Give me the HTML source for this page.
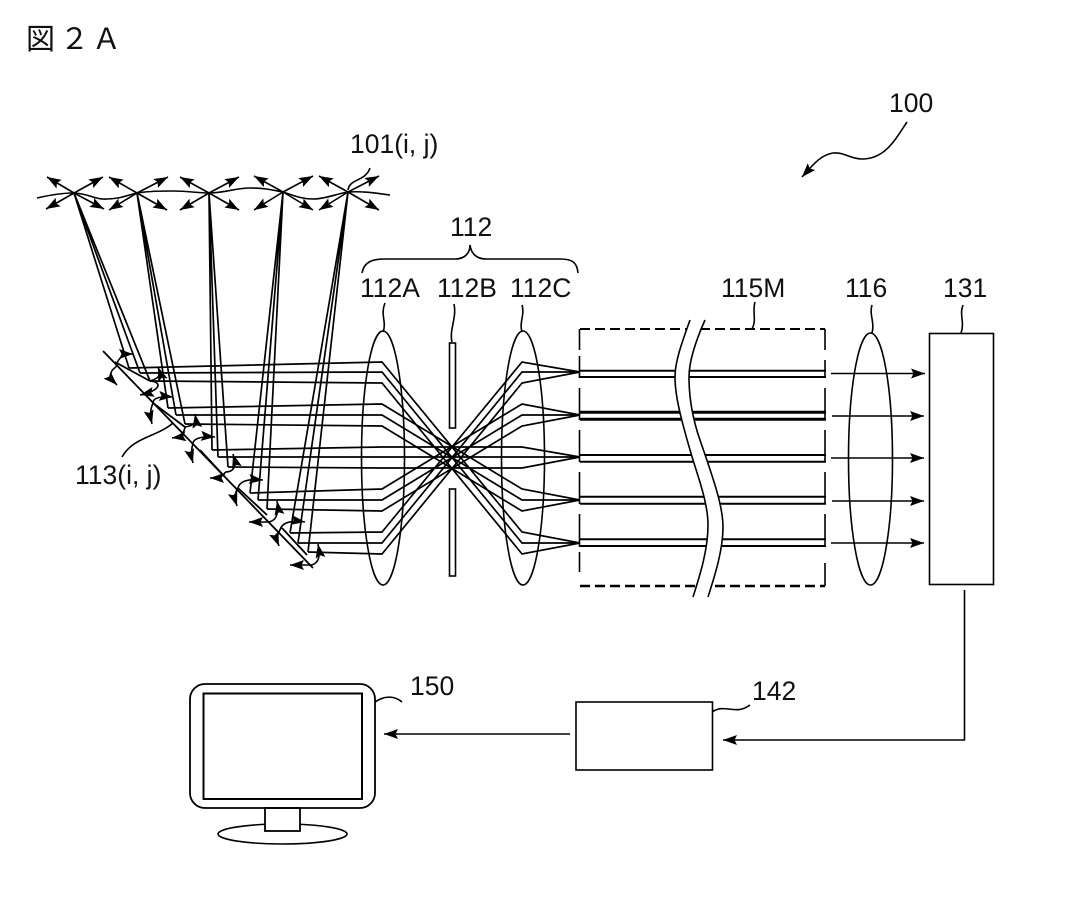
<!DOCTYPE html>
<html><head><meta charset="utf-8"><style>
html,body{margin:0;padding:0;background:#fff}
svg{display:block}
text{font-family:"Liberation Sans","Noto Sans CJK JP",sans-serif;font-size:26.5px;fill:#111}
.l{fill:none;stroke:#000;stroke-width:1.6}
.a{fill:none;stroke:#000;stroke-width:1.6;marker-end:url(#m)}
.r{fill:none;stroke:#000;stroke-width:1.7}
</style></head><body>
<svg width="1071" height="898" viewBox="0 0 1071 898" xmlns="http://www.w3.org/2000/svg">
<defs><marker id="m" markerUnits="userSpaceOnUse" markerWidth="16" markerHeight="12" refX="14" refY="5" orient="auto"><path d="M0 0L14 5L0 10L2.500 5Z" fill="#000"/></marker></defs>
<rect width="1071" height="898" fill="#fff"/>
<text y="49" style="font-size:29px"><tspan x="26">図</tspan><tspan x="60">２</tspan><tspan x="92">Ａ</tspan></text>
<text x="889" y="112">100</text><text x="350" y="153">101(i, j)</text><text x="450" y="236">112</text>
<text x="360" y="297">112A</text><text x="437" y="297">112B</text><text x="510" y="297">112C</text>
<text x="721" y="297">115M</text><text x="845" y="297">116</text><text x="943" y="297">131</text>
<text x="75" y="484">113(i, j)</text><text x="752" y="700">142</text><text x="410" y="695">150</text>

<!-- leaders -->
<path class="a" d="M907 122C895 140 885 159 862 159C850 159 845 152 833 153C820 155 812 166 802 177"/>
<path class="l" d="M348 190C350 178 365 182 370 168"/>
<path class="l" d="M362 273C364 262 372 259 385 259H455C465 259 470 253 470 245C471 253 476 259 486 259H560C572 259 577 262 578 273"/>
<path class="l" d="M383 332C387 322 380 315 385 303M452 342C449 330 457 318 454 304M522 332C519 322 525 315 522 305M752 329C757 320 752 312 755 302M872 333C875 322 869 315 872 305M961 333C965 322 959 315 963 305M712 712C725 703 735 716 750 705M375 702C385 695 395 696 402 702"/>
<path class="l" d="M122 457C133 437 157 437 173 423"/>

<!-- source wave -->
<path class="l" d="M37 198C50 195 62 193 73 193C88 193 95 200 107 199C120 199 128 195 137 193C150 191 160 191 173 191C188 191 198 193 209 193C225 193 235 188 250 188C265 188 272 190 283 192C295 196 302 199 313 199C325 199 336 194 348 192C362 191 375 193 390 195"/>

<!-- emitters -->
<line class="a" x1="74" y1="193" x2="47" y2="177"/><line class="a" x1="74" y1="193" x2="103" y2="177"/><line class="a" x1="74" y1="193" x2="46" y2="209"/><line class="a" x1="74" y1="193" x2="104" y2="209"/>
<line class="a" x1="137" y1="193" x2="109" y2="177"/><line class="a" x1="137" y1="193" x2="168" y2="177"/><line class="a" x1="137" y1="193" x2="109" y2="210"/><line class="a" x1="137" y1="193" x2="167" y2="210"/>
<line class="a" x1="209" y1="193" x2="180" y2="177"/><line class="a" x1="209" y1="193" x2="239" y2="177"/><line class="a" x1="209" y1="193" x2="180" y2="210"/><line class="a" x1="209" y1="193" x2="239" y2="210"/>
<line class="a" x1="283" y1="192" x2="254" y2="176"/><line class="a" x1="283" y1="192" x2="313" y2="176"/><line class="a" x1="283" y1="192" x2="254" y2="210"/><line class="a" x1="283" y1="192" x2="313" y2="210"/>
<line class="a" x1="348" y1="192" x2="319" y2="176"/><line class="a" x1="348" y1="192" x2="379" y2="176"/><line class="a" x1="348" y1="192" x2="319" y2="210"/><line class="a" x1="348" y1="192" x2="379" y2="210"/>

<!-- emitter to mirror rays -->
<path class="r" d="M74 193L129 368M74 193L140 373M74 193L150 381M137 193L168 408M137 193L176 415M137 193L185 424M209 193L212 450M209 193L218 457M209 193L228 467M283 192L250 493M283 192L258 500M283 192L267 509M348 192L290 533M348 192L298 543M348 192L308 552"/>

<!-- mirror to lens to fibre rays -->
<path class="r" d="M129 368L382 362L522 532L580 543M140 373L382 372L522 543L580 543M150 381L382 383L522 554L580 543"/>
<path class="r" d="M168 408L382 404L522 489L580 500M176 415L382 415L522 500L580 500M185 424L382 426L522 511L580 500"/>
<path class="r" d="M212 450L382 447L522 447L580 457M218 457L382 457L522 457L580 457M228 467L382 468L522 468L580 457"/>
<path class="r" d="M250 493L382 489L522 404L580 415M258 500L382 500L522 415L580 415M267 509L382 511L522 426L580 415"/>
<path class="r" d="M290 533L382 532L522 362L580 372M298 543L382 543L522 372L580 372M308 552L382 554L522 383L580 372"/>

<!-- mirrors -->
<path class="l" d="M103 351L313 568" style="stroke-width:1.8"/>
<path class="l" d="M115 362L150 381M153 403L185 427M200 450L225 477M238 488L267 515M282 528L307 555" style="stroke-width:1.8"/>

<!-- curved arrows -->
<path class="a" d="M116 367C108 372 110 378 117 385"/><path class="a" d="M116 367C118 356 125 354 133 354"/>
<path class="a" d="M150 381C162 382 162 390 140 395"/><path class="a" d="M150 381C160 378 161 375 158 367"/>
<path class="a" d="M153 403C153 398 160 396 173 397"/><path class="a" d="M153 403C150 410 150 416 152 424"/>
<path class="a" d="M185 427C198 425 196 420 195 414"/><path class="a" d="M185 427C184 434 180 437 172 438"/>
<path class="a" d="M193 443C194 438 203 436 215 437"/><path class="a" d="M193 443C191 450 191 456 193 463"/>
<path class="a" d="M225 472C236 472 236 464 233 454"/><path class="a" d="M225 472C225 476 218 478 210 478"/>
<path class="a" d="M238 488C240 480 250 479 263 480"/><path class="a" d="M238 488C234 494 235 500 237 506"/>
<path class="a" d="M267 522C277 522 279 512 277 501"/><path class="a" d="M267 522H249"/>
<path class="a" d="M280 530C282 522 292 520 305 522"/><path class="a" d="M280 530C276 536 277 541 279 546"/>
<path class="a" d="M312 565C320 562 320 555 318 544"/><path class="a" d="M312 565H290"/>

<!-- lenses -->
<ellipse class="l" cx="383" cy="458" rx="21.5" ry="127"/>
<ellipse class="l" cx="523" cy="458" rx="21.5" ry="127"/>
<ellipse class="l" cx="870.5" cy="459" rx="22" ry="126"/>

<!-- aperture -->
<rect class="l" x="449.5" y="343" width="6" height="85" fill="#fff"/>
<rect class="l" x="449.5" y="489" width="6" height="87"/>

<!-- fibre bundle -->
<path class="l" d="M580 370.700H826M580 377H826M580 455H826M580 461.700H826M580 496.700H826M580 503.700H826M580 539.300H826M580 546H826" style="stroke-width:2"/>
<path class="l" d="M580 412.300H826M580 419.300H826" style="stroke-width:3"/>
<path class="l" d="M580 329H825" style="stroke-width:2;stroke-dasharray:10 5"/>
<path class="l" d="M580 586H825" style="stroke-width:2.600;stroke-dasharray:10 5"/>
<path class="l" d="M579.500 329V350M579.500 356V378M579.500 388V420M579.500 430V462M579.500 472V504M579.500 514V547M579.500 552V572M825 329V350M825 360V378M825 388V420M825 430V462M825 472V504M825 514V547M825 563V586"/>
<path d="M690 320C681 345 675 362 675 377C675 392 678 410 693 460C700 482 708 505 708 525C708 550 700 575 693 597H708C715 575 723 550 723 527C723 505 712 475 700 440C693 420 689 400 689 377C689 360 697 338 705 320Z" fill="#fff"/>
<path class="l" d="M690 320C681 345 675 362 675 377C675 392 678 410 693 460C700 482 708 505 708 525C708 550 700 575 693 597"/>
<path class="l" d="M705 320C697 338 689 360 689 377C689 400 693 420 700 440C712 475 723 505 723 527C723 550 715 575 708 597"/>

<!-- output arrows -->
<line class="a" x1="831" y1="373.500" x2="925" y2="373.500"/>
<line class="a" x1="832" y1="416" x2="924" y2="416"/>
<line class="a" x1="831" y1="458" x2="924" y2="458"/>
<line class="a" x1="832" y1="501" x2="924" y2="501"/>
<line class="a" x1="831" y1="543" x2="924" y2="543"/>

<!-- sensor -->
<rect class="l" x="929.500" y="333.500" width="64" height="251"/>
<path class="a" d="M964.500 590V740H723"/>
<rect class="l" x="576" y="702" width="136.500" height="68"/>
<line class="a" x1="570" y1="734" x2="384" y2="734"/>

<!-- monitor -->
<ellipse class="l" cx="282.500" cy="834" rx="64.500" ry="10"/>
<rect x="265" y="808" width="35" height="23" fill="#fff" stroke="#000" stroke-width="1.8"/>
<rect class="l" x="190" y="684" width="185" height="124" rx="15" style="stroke-width:1.8"/>
<rect class="l" x="203.500" y="693.500" width="158.500" height="105.500" style="stroke-width:2"/>
</svg>
</body></html>
